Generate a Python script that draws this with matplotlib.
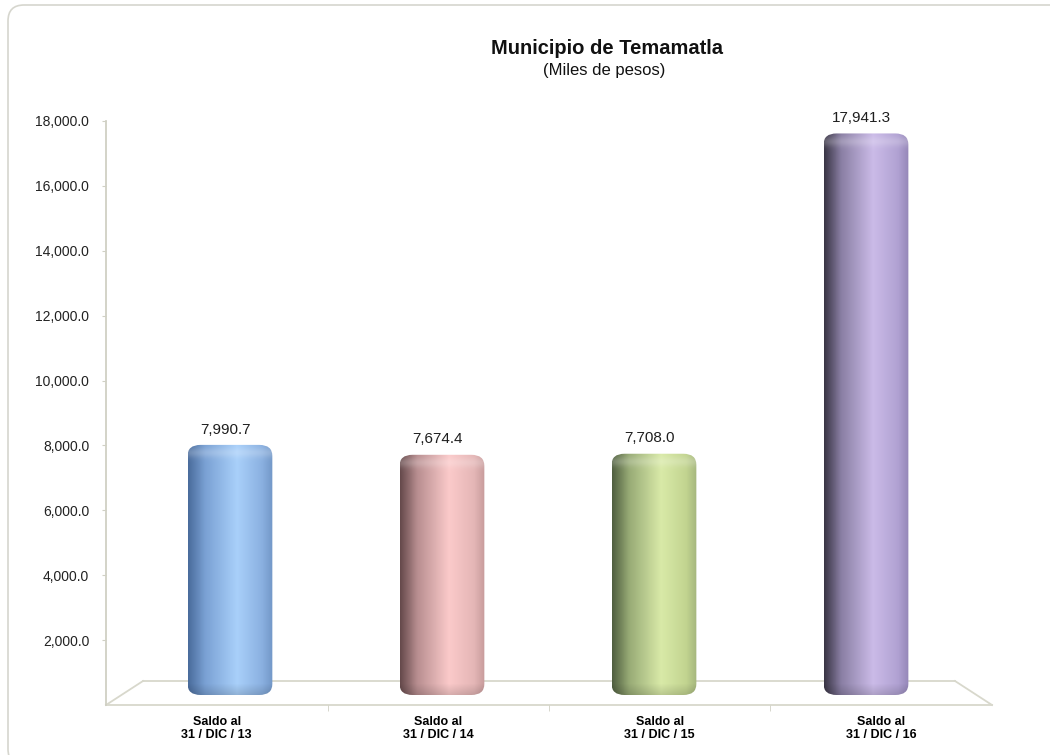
import numpy as np
import matplotlib.pyplot as plt
from matplotlib.patches import FancyBboxPatch
from matplotlib.colors import LinearSegmentedColormap
from matplotlib.ticker import FuncFormatter

# Data
categories = ['Saldo al\n31 / DIC / 13', 'Saldo al\n31 / DIC / 14',
              'Saldo al\n31 / DIC / 15', 'Saldo al\n31 / DIC / 16']
values = [7990.7, 7674.4, 7708.0, 17941.3]
y_ticks = [2000, 4000, 6000, 8000, 10000, 12000, 14000, 16000, 18000]

# shading stops for each cylinder: dark edge, mid, highlight, right side, right edge
bar_shades = [
    ['#4a6c9c', '#7aa1d4', '#a9d0fa', '#8ab0e0', '#7398c8'],
    ['#664a4c', '#b88e90', '#fbcaca', '#e4b6b6', '#c89c9c'],
    ['#505f40', '#98ab76', '#d9eaa8', '#c2d490', '#a6b77e'],
    ['#3a3646', '#8a7fa4', '#cbbbe8', '#b0a1d2', '#9587b8'],
]

plt.rcParams['font.family'] = ['Liberation Sans', 'DejaVu Sans']

W, H = 1050, 755
fig = plt.figure(figsize=(W / 100, H / 100), dpi=100)


def fbox(x0, y0, x1, y1):
    # pixel box measured from top-left -> figure fraction rect
    return [x0 / W, 1 - y1 / H, (x1 - x0) / W, (y1 - y0) / H]


# background layer: frame + 3D floor outline
bg = fig.add_axes([0, 0, 1, 1], zorder=0)
bg.set_xlim(0, W)
bg.set_ylim(H, 0)
bg.axis('off')
frame = FancyBboxPatch((8, 5), 1080, 760, boxstyle='round,pad=0,rounding_size=16',
                       fc='white', ec='#d6d6ce', lw=1.2)
bg.add_patch(frame)
floor_col = '#d8d8cc'
bg.plot([106, 992], [705, 705], color=floor_col, lw=1.3)
bg.plot([143, 955], [681, 681], color=floor_col, lw=1.3)
bg.plot([106, 143], [705, 681], color=floor_col, lw=1.3)
bg.plot([955, 992], [681, 705], color=floor_col, lw=1.3)

# front axes: value scale and category labels
ax = fig.add_axes(fbox(106, 121, 992, 705), zorder=1)
ax.patch.set_alpha(0)
ax.set_ylim(0, 18000)
ax.set_xlim(-0.5, 3.5)
for s in ['top', 'right', 'bottom']:
    ax.spines[s].set_visible(False)
ax.spines['left'].set_color('#d0d0c4')
ax.spines['left'].set_linewidth(1.3)
ax.set_yticks(y_ticks)
ax.yaxis.set_major_formatter(FuncFormatter(lambda v, p: f'{v:,.1f}'))
ax.tick_params(axis='y', length=3, color='#d0d0c4', pad=9, labelsize=10, labelcolor='#222222')
ax.set_xticks(range(len(categories)))
ax.set_xticklabels(categories, fontweight='bold', fontsize=9, linespacing=1.15)
ax.set_xticks([0.5, 1.5, 2.5], minor=True)
ax.tick_params(axis='x', which='major', length=0, pad=8)
ax.tick_params(axis='x', which='minor', length=4, color='#d0d0c4')

# bar layer (back plane of the 3D box)
bx = fig.add_axes(fbox(143, 131.6, 955, 695), zorder=2)
bx.patch.set_alpha(0)
bx.axis('off')

px_x = 812 / (3.42 + 0.41)          # pixels per x unit
px_y = (695 - 131.6) / 18000        # pixels per y unit
bar_w = 0.40
rx = 13 / px_x
ry = 11 / px_y

for i, (v, shade) in enumerate(zip(values, bar_shades)):
    cmap = LinearSegmentedColormap.from_list(
        f'cyl{i}', list(zip([0, 0.2, 0.58, 0.88, 1.0], shade)))
    ncols = int(bar_w * px_x)
    nrows = int(v * px_y)
    t = np.linspace(0, 1, ncols)
    img = np.tile(cmap(t)[:, :3], (nrows, 1, 1))
    rows = np.arange(nrows)[:, None, None]
    # lighter band on the rounded top cap
    cap = np.exp(-((rows - 8) / 5.0) ** 2) * 0.2
    img = img + (1 - img) * cap
    # slight shadow at the rounded bottom
    bot = np.clip((rows - (nrows - 12)) / 12.0, 0, 1) * 0.15
    img = img * (1 - bot)
    img = np.clip(img, 0, 1)

    x0 = i - bar_w / 2
    clip = FancyBboxPatch((x0, 0), bar_w, v,
                          boxstyle=f'round,pad=0,rounding_size={rx}',
                          mutation_aspect=ry / rx, fc='none', ec='none',
                          transform=bx.transData)
    bx.add_patch(clip)
    im = bx.imshow(img, extent=(x0, x0 + bar_w, 0, v), aspect='auto',
                   origin='upper', interpolation='bilinear')
    im.set_clip_path(clip)
    bx.annotate(f'{v:,.1f}', (i - 0.02, v), xytext=(0, 6), textcoords='offset points',
                ha='center', va='bottom', fontsize=11, color='#1e1e1e')

bx.set_xlim(-0.41, 3.42)
bx.set_ylim(0, 18000)

fig.text(607 / W, 1 - 49 / H, 'Municipio de Temamatla', ha='center', va='center',
         fontsize=14.5, fontweight='bold', color='#111111')
fig.text(604 / W, 1 - 70 / H, '(Miles de pesos)', ha='center', va='center',
         fontsize=12, color='#111111')

fig.savefig('out.png', dpi=100)
